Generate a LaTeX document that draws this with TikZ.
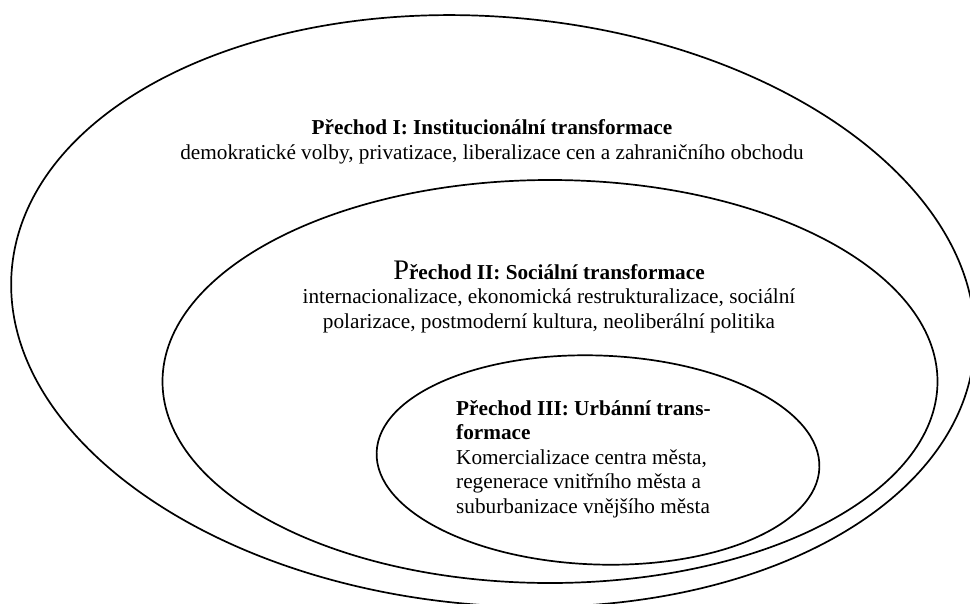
\documentclass[tikz,border=0pt]{standalone}
\usepackage{fontspec}
\setmainfont{Liberation Serif}
\usetikzlibrary{positioning}
\usetikzlibrary{shapes.geometric}
\tikzset{
  font={\fontsize{21.25pt}{24.5pt}\selectfont}
}
\def\lineColor{black}
\def\ringWidth{1.7pt}
\newcommand{\bigP}{{\fontsize{28.3pt}{28.3pt}\selectfont P}}
\tikzstyle{ring}=[ellipse,draw=\lineColor,line width=\ringWidth,inner sep=0pt,outer sep=0pt]
\tikzstyle{phasetext}=[inner sep=0pt,align=center,anchor=base]
\tikzstyle{innertext}=[inner sep=0pt,align=left,anchor=base west]

\begin{document}
\begin{tikzpicture}[x=1pt,y=-1pt]
    \useasboundingbox (0,0) rectangle (970,603);
    \clip (0,0) rectangle (970,603);

    % Draw the three nested rings
    \node[ring,minimum width=966pt,minimum height=588pt,rotate=-5] (ring-I) at (493,311) {};
    \node[ring,minimum width=775pt,minimum height=403pt] (ring-II) at (550,381.5) {};
    \node[ring,minimum width=443pt,minimum height=209pt,rotate=-2] (ring-III) at (598,460) {};

    % Phase labels (anchored at the baseline of their last line)
    \node[phasetext] (text-I) at (492,159) {\textbf{Přechod I: Institucionální transformace}\\demokratické volby, privatizace, liberalizace cen a zahraničního obchodu};
    \node[phasetext] (text-II) at (549,328) {\bigP\textbf{řechod II: Sociální transformace}\\internacionalizace, ekonomická restrukturalizace, sociální\\polarizace, postmoderní kultura, neoliberální politika};
    \node[innertext] (text-III) at (456,513) {\textbf{Přechod III: Urbánní trans-}\\\textbf{formace}\\Komercializace centra města,\\regenerace vnitřního města a\\suburbanizace vnějšího města};
\end{tikzpicture}
\end{document}
